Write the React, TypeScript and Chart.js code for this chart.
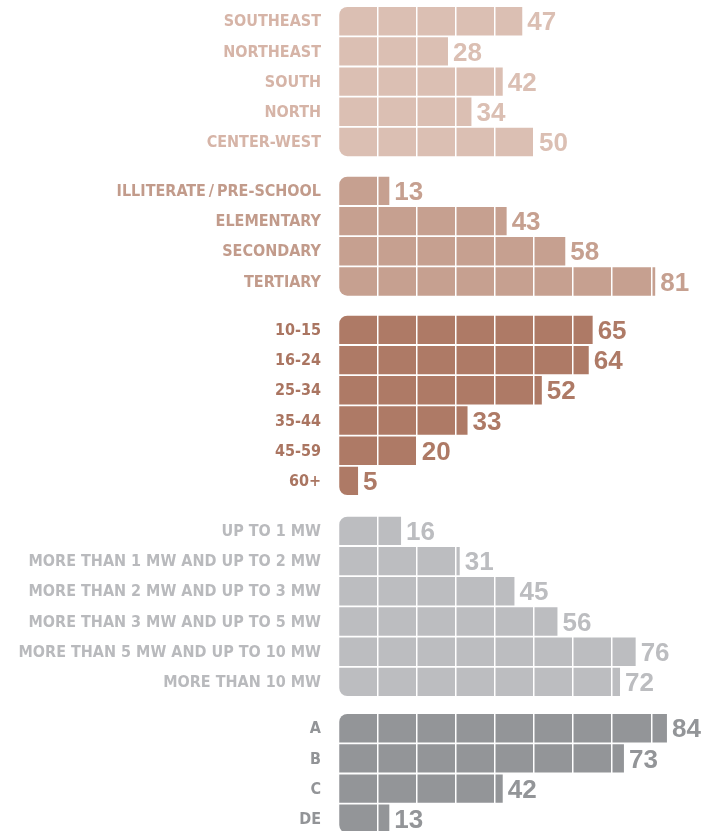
import React, { useEffect, useRef } from 'react';
import { Chart, registerables } from 'chart.js';

Chart.register(...registerables);

// ---- data ----
const regionLabels = ['SOUTHEAST', 'NORTHEAST', 'SOUTH', 'NORTH', 'CENTER-WEST'];
const regionValues = [47, 28, 42, 34, 50];

const educationLabels = ['ILLITERATE\u2009/\u2009PRE-SCHOOL', 'ELEMENTARY', 'SECONDARY', 'TERTIARY'];
const educationValues = [13, 43, 58, 81];

const ageLabels = ['10-15', '16-24', '25-34', '35-44', '45-59', '60+'];
const ageValues = [65, 64, 52, 33, 20, 5];

const incomeLabels = [
  'UP TO 1 MW',
  'MORE THAN 1 MW AND UP TO 2 MW',
  'MORE THAN 2 MW AND UP TO 3 MW',
  'MORE THAN 3 MW AND UP TO 5 MW',
  'MORE THAN 5 MW AND UP TO 10 MW',
  'MORE THAN 10 MW',
];
const incomeValues = [16, 31, 45, 56, 76, 72];

const classLabels = ['A', 'B', 'C', 'DE'];
const classValues = [84, 73, 42, 13];

// ---- layout / style ----
const LABEL_FONT = '"DejaVu Sans Condensed", "DejaVu Sans", Verdana, sans-serif';
const VALUE_FONT = '"Liberation Sans", Arial, Helvetica, sans-serif';
const PAGE_W = 705;
const PAGE_H = 831;
const PITCH = 30.2;
const BAR_H = 28.4;
const AXIS_LEFT = 338.5;
const PX_PER_UNIT = 3.91;
const X_MAX = 90;
const RADIUS = 8;
const MARGIN = 14;

type Group = {
  labels: string[];
  values: number[];
  color: string;
  textColor: string;
  barTop: number;
};

const groups: Group[] = [
  { labels: regionLabels, values: regionValues, color: '#dbbfb3', textColor: '#d6b4a7', barTop: 7 },
  { labels: educationLabels, values: educationValues, color: '#c6a090', textColor: '#c29b8b', barTop: 176.7 },
  { labels: ageLabels, values: ageValues, color: '#ae7a66', textColor: '#aa7561', barTop: 315.7 },
  { labels: incomeLabels, values: incomeValues, color: '#bcbdc0', textColor: '#b9babd', barTop: 516.7 },
  { labels: classLabels, values: classValues, color: '#939598', textColor: '#929497', barTop: 714 },
];

function GroupChart({ g }: { g: Group }) {
  const ref = useRef<HTMLCanvasElement | null>(null);
  const n = g.labels.length;
  const areaTop = g.barTop - (PITCH - BAR_H) / 2;
  const boxTop = Math.floor(areaTop) - MARGIN;
  const areaBottom = areaTop + n * PITCH;
  const boxH = Math.ceil(areaBottom - boxTop) + MARGIN;
  const padTop = areaTop - boxTop;
  const padBottom = boxTop + boxH - areaBottom;
  const padRight = PAGE_W - (AXIS_LEFT + X_MAX * PX_PER_UNIT);

  useEffect(() => {
    if (!ref.current) return;
    const valueLabels = {
      id: 'valueLabels',
      afterDraw(chart: any) {
        const ctx = chart.ctx;
        const meta = chart.getDatasetMeta(0);
        ctx.save();
        ctx.font = `bold 26px ${VALUE_FONT}`;
        ctx.fillStyle = g.color;
        ctx.textAlign = 'left';
        ctx.textBaseline = 'middle';
        meta.data.forEach((bar: any, i: number) => {
          const p = bar.getProps(['x', 'y'], true);
          ctx.fillText(String(g.values[i]), p.x + 5, p.y + 2);
        });
        ctx.restore();
      },
    };
    const chart = new Chart(ref.current, {
      type: 'bar',
      data: {
        labels: g.labels,
        datasets: [
          {
            data: g.values,
            backgroundColor: g.color,
            borderWidth: 0,
            borderSkipped: false,
            borderRadius: (c: any) => ({
              topLeft: c.dataIndex === 0 ? RADIUS : 0,
              bottomLeft: c.dataIndex === n - 1 ? RADIUS : 0,
              topRight: 0,
              bottomRight: 0,
            }),
            barPercentage: 1,
            categoryPercentage: BAR_H / PITCH,
          },
        ],
      },
      options: {
        indexAxis: 'y',
        animation: false,
        responsive: true,
        maintainAspectRatio: false,
        events: [],
        layout: { padding: { top: padTop, bottom: padBottom, left: 0, right: padRight } },
        plugins: { legend: { display: false }, tooltip: { enabled: false } },
        scales: {
          x: {
            type: 'linear',
            min: 0,
            max: X_MAX,
            grid: {
              z: 1,
              color: (c: any) => (c.tick && c.tick.value === 0 ? 'rgba(255,255,255,0)' : '#ffffff'),
              lineWidth: 1.5,
              drawTicks: false,
            },
            border: { display: false },
            ticks: { display: false, stepSize: 10 },
          },
          y: {
            grid: { display: false, drawTicks: true, tickLength: 17.5 },
            border: { display: false },
            ticks: {
              color: g.textColor,
              font: { family: LABEL_FONT, size: 16, weight: 'bold' },
              padding: 0,
              labelOffset: 1,
            },
            afterFit: (s: any) => {
              s.width = AXIS_LEFT;
            },
          },
        },
      } as any,
      plugins: [valueLabels],
    });
    return () => chart.destroy();
  }, []);

  return (
    <div style={{ position: 'absolute', left: 0, top: boxTop, width: PAGE_W, height: boxH }}>
      <canvas ref={ref} />
    </div>
  );
}

export default function App() {
  return (
    <div
      style={{
        position: 'absolute',
        left: 0,
        top: 0,
        width: PAGE_W,
        height: PAGE_H,
        overflow: 'hidden',
        background: '#ffffff',
      }}
    >
      {groups.map((g, i) => (
        <GroupChart key={i} g={g} />
      ))}
    </div>
  );
}
